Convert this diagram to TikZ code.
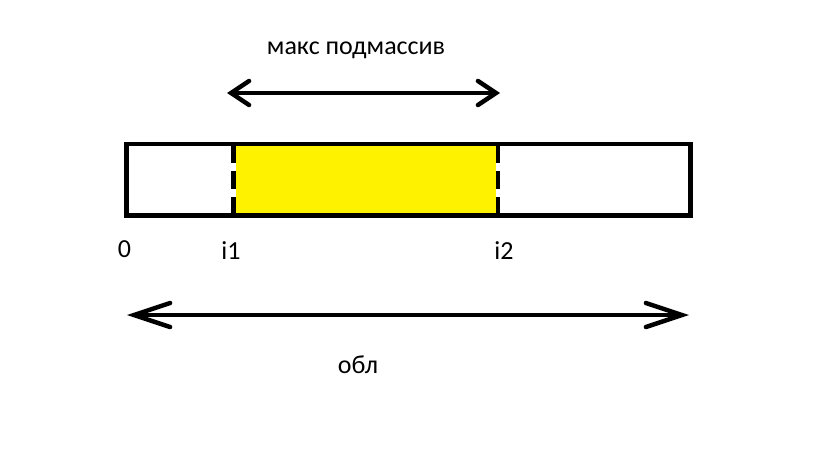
\documentclass[tikz,border=0pt]{standalone}
\usepackage{fontspec}
\setmainfont{Carlito}
\usetikzlibrary{arrows.meta}
\begin{document}
\begin{tikzpicture}[x=1pt,y=-1pt,
  thickline/.style={line width=4.5pt},
  longarrow/.style={thickline,{Straight Barb[length=36pt,width=24pt,line cap=round]}-{Straight Barb[length=36pt,width=24pt,line cap=round]}},
  shortarrow/.style={thickline,{Straight Barb[length=18pt,width=24pt,line cap=round]}-{Straight Barb[length=18pt,width=24pt,line cap=round]}},
  divider/.style={thickline,dash pattern=on 19pt off 8pt on 18pt off 8pt on 40pt off 0pt},
  lbl/.style={font=\fontsize{26}{30}\selectfont,inner sep=0pt}]
\useasboundingbox (0,0) rectangle (819,460);
% array with the max subarray
\fill[yellow] (236,146) rectangle (496,213);
\draw[thickline] (126.5,144) rectangle (690.5,215.5);
\coordinate (i1top) at (233.5,144);
\coordinate (i1bot) at (233.5,217);
\coordinate (i2top) at (498,144);
\coordinate (i2bot) at (498,217);
\draw[divider] (i1top) -- (i1bot);
\draw[divider] (i2top) -- (i2bot);
% arrows
\coordinate (subL) at (227,93);
\coordinate (subR) at (500,93);
\draw[shortarrow] (subL) -- (subR);
\coordinate (allL) at (127,315);
\coordinate (allR) at (689,315);
\draw[longarrow] (allL) -- (allR);
% labels
\node[lbl] (sub) at (356,50) {макс подмассив};
\node[lbl] (zero) at (124.5,249) {0};
\node[lbl] (i1) at (231,251) {i1};
\node[lbl] (i2) at (504,251) {i2};
\node[lbl] (area) at (358,365) {обл};
\end{tikzpicture}
\end{document}
